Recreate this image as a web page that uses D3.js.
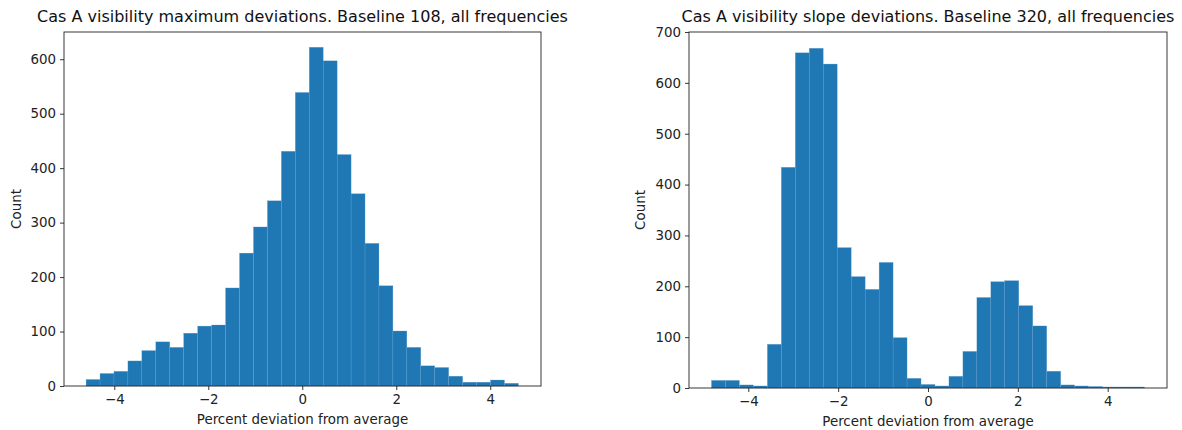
<!DOCTYPE html>
<html>
<head>
<meta charset="utf-8">
<script src="https://cdn.jsdelivr.net/npm/d3@7"></script>
<style>
	body { margin: 0; background: #fff; }
	svg { font-family: "DejaVu Sans", sans-serif; }
</style>
</head>
<body>
<div id="chartDiv"></div>
<script>

// left panel: 31 bins between -4.6 and 4.6
var leftTitle = "Cas A visibility maximum deviations. Baseline 108, all frequencies";
var leftBinRange = [-4.6, 4.6];
var leftCounts = [12, 23, 27, 46, 65, 81, 71, 97, 110, 112, 180, 244, 292, 340, 431, 539,
	622, 597, 425, 353, 262, 184, 101, 71, 37, 34, 18, 7, 7, 11, 5];
var leftYTicks = [0, 100, 200, 300, 400, 500, 600];
var leftYMax = 650;

// right panel: 31 bins between -4.82 and 4.82
var rightTitle = "Cas A visibility slope deviations. Baseline 320, all frequencies";
var rightBinRange = [-4.82, 4.82];
var rightCounts = [15, 15, 6, 4, 86, 434, 659, 668, 637, 276, 219, 194, 247, 99, 19, 7,
	4, 23, 72, 178, 209, 211, 162, 122, 33, 6, 4, 3, 2, 2, 2];
var rightYTicks = [0, 100, 200, 300, 400, 500, 600, 700];
var rightYMax = 700;

var xTicks = [-4, -2, 0, 2, 4];
var xLabel = "Percent deviation from average";
var yLabel = "Count";

var width = 1182;
var height = 430;
var barColor = "#1f77b4";

var svg = d3.select("#chartDiv").append("svg")
	.attr("width", width)
	.attr("height", height);

drawPanel({
	left: 64, right: 541, top: 32, bottom: 386,
	xDomain: [-5.07, 5.08],
	yMax: leftYMax, yTicks: leftYTicks,
	binRange: leftBinRange, counts: leftCounts,
	title: leftTitle, titleY: 22, xLabelY: 424, yLabelX: 21
});

drawPanel({
	left: 689, right: 1167, top: 32, bottom: 388,
	xDomain: [-5.32, 5.32],
	yMax: rightYMax, yTicks: rightYTicks,
	binRange: rightBinRange, counts: rightCounts,
	title: rightTitle, titleY: 22, xLabelY: 426, yLabelX: 645
});

function styleAxis(g) {
	g.select(".domain").remove();
	g.selectAll("line").attr("stroke", "#222").attr("stroke-width", 0.9);
	g.selectAll("text")
		.attr("fill", "#222")
		.style("font-family", "'DejaVu Sans', sans-serif")
		.style("font-size", "13.4px");
}

function drawPanel(p) {
	var xScale = d3.scaleLinear().domain(p.xDomain).range([p.left, p.right]);
	var yScale = d3.scaleLinear().domain([0, p.yMax]).range([p.bottom, p.top]);

	var n = p.counts.length;
	var step = (p.binRange[1] - p.binRange[0]) / n;
	var bins = p.counts.map(function(c, i) {
		return { x0: p.binRange[0] + i * step, x1: p.binRange[0] + (i + 1) * step, count: c };
	});

	svg.append("g").selectAll("rect")
		.data(bins)
		.enter().append("rect")
			.attr("x", function(d) { return xScale(d.x0); })
			.attr("y", function(d) { return yScale(d.count); })
			.attr("width", function(d) { return xScale(d.x1) - xScale(d.x0); })
			.attr("height", function(d) { return yScale(0) - yScale(d.count); })
			.attr("fill", barColor)
			.attr("stroke", "#6aa3cf")
			.attr("stroke-width", 0.3);

	// frame
	svg.append("rect")
		.attr("x", p.left)
		.attr("y", p.top)
		.attr("width", p.right - p.left)
		.attr("height", p.bottom - p.top)
		.attr("fill", "none")
		.attr("stroke", "#222")
		.attr("stroke-width", 0.9);

	var fmt = d3.format("d");

	svg.append("g")
		.attr("transform", "translate(0," + p.bottom + ")")
		.call(d3.axisBottom(xScale).tickValues(xTicks).tickFormat(fmt).tickSize(4).tickSizeOuter(0).tickPadding(4))
		.call(styleAxis);

	svg.append("g")
		.attr("transform", "translate(" + p.left + ",0)")
		.call(d3.axisLeft(yScale).tickValues(p.yTicks).tickFormat(fmt).tickSize(4).tickSizeOuter(0).tickPadding(4))
		.call(styleAxis);

	var cx = (p.left + p.right) / 2;

	svg.append("text")
		.attr("x", cx)
		.attr("y", p.titleY)
		.attr("text-anchor", "middle")
		.style("font-size", "16px")
		.attr("fill", "#111")
		.text(p.title);

	svg.append("text")
		.attr("x", cx)
		.attr("y", p.xLabelY)
		.attr("text-anchor", "middle")
		.style("font-size", "13.4px")
		.attr("fill", "#222")
		.text(xLabel);

	svg.append("text")
		.attr("text-anchor", "middle")
		.attr("transform", "translate(" + p.yLabelX + "," + ((p.top + p.bottom) / 2) + ") rotate(-90)")
		.style("font-size", "13.4px")
		.attr("fill", "#222")
		.text(yLabel);
}

</script>
</body>
</html>
